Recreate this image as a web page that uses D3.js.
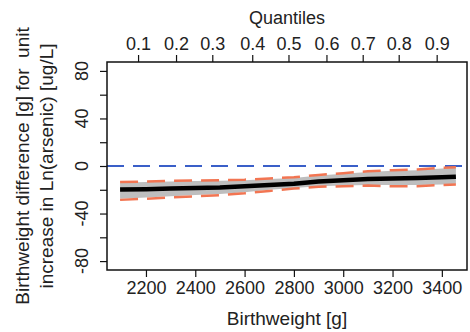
<!DOCTYPE html>
<html>
<head>
<meta charset="utf-8">
<script src="https://cdn.jsdelivr.net/npm/d3@7"></script>
<style>
    body { margin: 0; background: #fff; }
    svg text { font-family: "Liberation Sans", Arial, sans-serif; fill: #222; }
</style>
</head>
<body>
<svg id="chart"></svg>
<script>
// birthweight grid and fitted effect
let birthweight = [2095, 2200, 2300, 2400, 2500, 2600, 2700, 2800, 2900, 3000, 3100, 3200, 3300, 3400, 3457];
let effect      = [-19.8, -19.5, -19, -18.5, -18, -17, -16, -15, -13, -12, -11, -10.5, -10, -9.5, -9];
let upperCI     = [-13.5, -13, -12.5, -12.2, -12, -11.5, -10.5, -9.5, -7.5, -6, -4.5, -3.5, -3, -1.5, -1];
let lowerCI     = [-28.5, -27.5, -26.5, -25.5, -24.5, -23, -21, -19, -17.5, -17, -16.5, -17, -17, -16, -15.5];
let bandUpper   = [-14, -13.5, -13, -12.7, -12.4, -12, -11, -10, -8, -6.5, -5, -4, -3.5, -2, -1.5];
let bandLower   = [-27.5, -26.5, -25.5, -24.5, -23.5, -22, -20, -18.5, -17, -16.5, -16, -16, -16, -15.5, -15];

// quantiles of birthweight shown on the top axis
let quantileLabels = ["0.1", "0.2", "0.3", "0.4", "0.5", "0.6", "0.7", "0.8", "0.9"];
let quantileValues = [2168, 2322, 2469, 2631, 2778, 2932, 3079, 3225, 3379];

let xTicks = [2200, 2400, 2600, 2800, 3000, 3200, 3400];
let yTicks = [-80, -60, -40, -20, 0, 20, 40, 60, 80];
let yLabels = [-80, -40, 0, 40, 80];

let width = 470,
    height = 332;

let margin = {left: 107, right: 3, top: 62, bottom: 62};

let svg = d3.select("svg#chart")
    .attr("width", width)
    .attr("height", height);

let x = d3.scaleLinear()
    .domain([2042, 3502])
    .range([margin.left, width - margin.right]);

let y = d3.scaleLinear()
    .domain([-87.5, 87.5])
    .range([height - margin.bottom, margin.top]);

let rows = birthweight.map((d, i) => ({
    bw: d, fit: effect[i], lo: lowerCI[i], hi: upperCI[i], bLo: bandLower[i], bHi: bandUpper[i]
}));

// grey confidence band
svg.append("path")
    .datum(rows)
    .attr("fill", "#bebebe")
    .attr("d", d3.area()
        .x(d => x(d.bw))
        .y0(d => y(d.bLo))
        .y1(d => y(d.bHi)));

// reference line at zero
svg.append("line")
    .attr("x1", x.range()[0])
    .attr("x2", x.range()[1])
    .attr("y1", y(0))
    .attr("y2", y(0))
    .attr("stroke", "#3a5fc8")
    .attr("stroke-width", 2)
    .attr("stroke-dasharray", "17,9");

// dashed CI lines
[["hi", upperCI], ["lo", lowerCI]].forEach(function (c) {
    svg.append("path")
        .datum(rows)
        .attr("fill", "none")
        .attr("stroke", "#f27552")
        .attr("stroke-width", 2.5)
        .attr("stroke-dasharray", "18,9")
        .attr("d", d3.line().x(d => x(d.bw)).y(d => y(d[c[0]])));
});

// fitted effect
svg.append("path")
    .datum(rows)
    .attr("fill", "none")
    .attr("stroke", "#000")
    .attr("stroke-width", 4.5)
    .attr("stroke-linejoin", "round")
    .attr("d", d3.line().x(d => x(d.bw)).y(d => y(d.fit)));

// box
svg.append("rect")
    .attr("x", x.range()[0])
    .attr("y", y.range()[1])
    .attr("width", x.range()[1] - x.range()[0])
    .attr("height", y.range()[0] - y.range()[1])
    .attr("fill", "none")
    .attr("stroke", "#111")
    .attr("stroke-width", 1.5);

// bottom axis
let bottomAxis = svg.append("g")
    .attr("transform", `translate(0, ${y.range()[0]})`)
    .call(d3.axisBottom(x).tickValues(xTicks).tickSize(7).tickPadding(4).tickFormat(d3.format("d")));
bottomAxis.select(".domain").remove();
bottomAxis.selectAll("line").attr("stroke", "#111").attr("stroke-width", 1.2);
bottomAxis.selectAll("text")
    .attr("font-size", 18)
    .attr("font-family", "Liberation Sans, Arial, sans-serif")
    .attr("fill", "#222");

svg.append("text")
    .attr("x", (x.range()[0] + x.range()[1]) / 2)
    .attr("y", 325)
    .attr("text-anchor", "middle")
    .attr("font-size", 19)
    .text("Birthweight [g]");

// top axis with quantiles
let topAxis = svg.append("g")
    .attr("transform", `translate(0, ${y.range()[1]})`)
    .call(d3.axisTop(x).tickValues(quantileValues).tickSize(7).tickPadding(5)
        .tickFormat((d, i) => quantileLabels[i]));
topAxis.select(".domain").remove();
topAxis.selectAll("line").attr("stroke", "#111").attr("stroke-width", 1.2);
topAxis.selectAll("text")
    .attr("font-size", 18)
    .attr("font-family", "Liberation Sans, Arial, sans-serif")
    .attr("fill", "#222");

svg.append("text")
    .attr("x", 287)
    .attr("y", 24)
    .attr("text-anchor", "middle")
    .attr("font-size", 18)
    .text("Quantiles");

// left axis
let leftAxis = svg.append("g")
    .attr("transform", `translate(${x.range()[0]}, 0)`)
    .call(d3.axisLeft(y).tickValues(yTicks).tickSize(7).tickFormat(""));
leftAxis.select(".domain").remove();
leftAxis.selectAll("line").attr("stroke", "#111").attr("stroke-width", 1.2);

svg.append("g")
    .selectAll("text")
    .data(yLabels)
    .enter()
    .append("text")
    .attr("transform", d => `translate(88, ${y(d)}) rotate(-90)`)
    .attr("text-anchor", "middle")
    .attr("font-size", 18)
    .text(d => d);

let midY = (y.range()[0] + y.range()[1]) / 2;
svg.append("text")
    .attr("transform", `translate(29, ${midY}) rotate(-90)`)
    .attr("text-anchor", "middle")
    .attr("font-size", 19)
    .attr("xml:space", "preserve")
    .style("white-space", "pre")
    .text("Birthweight difference [g] for  unit");
svg.append("text")
    .attr("transform", `translate(53, ${midY}) rotate(-90)`)
    .attr("text-anchor", "middle")
    .attr("font-size", 19)
    .text("increase in Ln(arsenic) [ug/L]");
</script>
</body>
</html>
